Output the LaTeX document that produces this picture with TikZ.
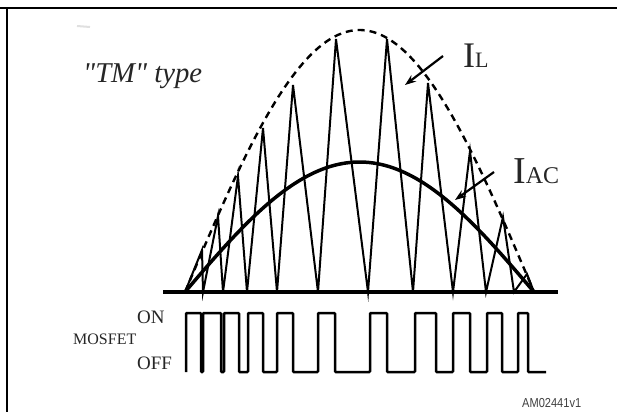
\documentclass[tikz,border=0pt]{standalone}
\usepackage{fontspec}
\setmainfont{Liberation Serif}
\newfontfamily\plainserif{Liberation Serif}
\newfontfamily\amfont[FakeStretch=0.85]{Liberation Sans}
\usetikzlibrary{arrows.meta}

\begin{document}
\begin{tikzpicture}[x=1pt,y=-1pt]
\tikzset{
  frameline/.style={line width=2.2pt},
  envelope/.style={line width=2.4pt,dash pattern=on 7pt off 5pt},
  iacurve/.style={line width=3.5pt},
  ripple/.style={line width=2pt},
  gatewave/.style={line width=2.5pt,rounded corners=0.8pt},
  pointer/.style={-{Stealth[length=11pt,width=8pt]},line width=2.2pt},
  axisline/.style={line width=3.2pt},
  txt/.style={inner sep=0pt,text=black!85}
}
\useasboundingbox (0,0) rectangle (617,412);
% frame and scan mark
\draw[frameline] (0,7.7) -- (617,7.7);
\draw[frameline] (7,7.7) -- (7,412);
\draw[line width=2pt,black!12] (77,26) -- (90,27);
% texts
\node[txt,anchor=base west,font=\plainserif\itshape\fontsize{28.7}{30}\selectfont] (tmType) at (83,82) {"TM" type};
\node[txt,anchor=base west] (ilLabel) at (463,67)
  {{\fontsize{36}{36}\selectfont I}{\fontsize{22}{22}\selectfont L}};
\node[txt,anchor=base west] (iacLabel) at (513,183)
  {{\fontsize{38}{38}\selectfont I}{\fontsize{24}{24}\selectfont AC}};
\node[txt,anchor=base west,font=\fontsize{19}{19}\selectfont] (onLabel) at (137,323) {ON};
\node[txt,anchor=base west,font=\fontsize{16}{16}\selectfont] (mosfetLabel) at (73,344) {MOSFET};
\node[txt,anchor=base west,font=\fontsize{19}{19}\selectfont] (offLabel) at (137,369) {OFF};
\node[txt,anchor=base west,font=\amfont\fontsize{13}{13}\selectfont,text=black!75] (amCode) at (522,407) {AM02441v1};
% base line
\draw[axisline] (163,292) -- (558,292);
% envelope and mains current
\draw[envelope] plot[domain=0:180,samples=90] ({185+\x*1.9389},{292-262*sin(\x)});
\draw[iacurve] plot[domain=0:180,samples=90] ({185+\x*1.9389},{292-130*sin(\x)});
% inductor current
\draw[ripple] (185,292) -- (202,250) -- (203,292) -- (218,216) -- (223,292)
  -- (238,176) -- (247,292) -- (263,128) -- (277,292) -- (293,85) -- (318,292)
  -- (336,39) -- (368,292) -- (387,39) -- (413,292) -- (428,83) -- (453,292)
  -- (470,151) -- (486,292) -- (503,217) -- (514,292) -- (527,274) -- (534,292);
% arrows
\coordinate (ilTail) at (443,56);
\coordinate (ilTip) at (405,85);
\coordinate (iacTail) at (494,172);
\coordinate (iacTip) at (455,200);
\draw[pointer] (ilTail) -- (ilTip);
\draw[pointer] (iacTail) -- (iacTip);
% gate signal
\draw[gatewave] (186,372)
  \foreach \a/\b in {186/201,203/221,224/239,248/263,277/293,318/335,370/387,415/436,453/470,487/502,518/528}
  { -- (\a,372) -- (\a,313) -- (\b,313) -- (\b,372) } -- (546,372);
\end{tikzpicture}
\end{document}
